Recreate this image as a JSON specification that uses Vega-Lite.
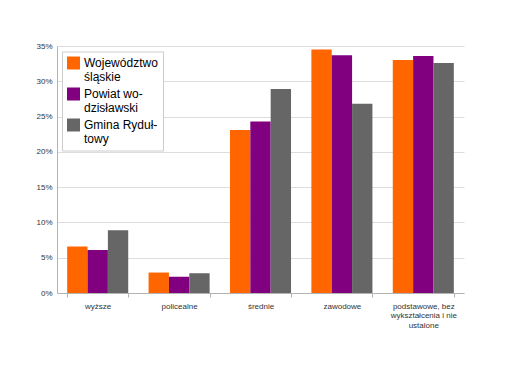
{
  "$schema": "https://vega.github.io/schema/vega-lite/v6.json",
  "width": 407,
  "height": 247,
  "autosize": "none",
  "padding": {"left": 57, "top": 46, "right": 62, "bottom": 79},
  "background": "white",
  "config": {
    "view": {"stroke": null},
    "font": "Liberation Sans"
  },
  "data": {
    "values": [
      {"kat": "wyższe", "jedn": "Województwo śląskie", "v": 6.6},
      {"kat": "wyższe", "jedn": "Powiat wodzisławski", "v": 6.1},
      {"kat": "wyższe", "jedn": "Gmina Rydułtowy", "v": 8.9},
      {"kat": "policealne", "jedn": "Województwo śląskie", "v": 2.9},
      {"kat": "policealne", "jedn": "Powiat wodzisławski", "v": 2.3},
      {"kat": "policealne", "jedn": "Gmina Rydułtowy", "v": 2.8},
      {"kat": "średnie", "jedn": "Województwo śląskie", "v": 23.1},
      {"kat": "średnie", "jedn": "Powiat wodzisławski", "v": 24.3},
      {"kat": "średnie", "jedn": "Gmina Rydułtowy", "v": 28.9},
      {"kat": "zawodowe", "jedn": "Województwo śląskie", "v": 34.5},
      {"kat": "zawodowe", "jedn": "Powiat wodzisławski", "v": 33.7},
      {"kat": "zawodowe", "jedn": "Gmina Rydułtowy", "v": 26.8},
      {"kat": "podstawowe, bez wykształcenia i nie ustalone", "jedn": "Województwo śląskie", "v": 33.0},
      {"kat": "podstawowe, bez wykształcenia i nie ustalone", "jedn": "Powiat wodzisławski", "v": 33.6},
      {"kat": "podstawowe, bez wykształcenia i nie ustalone", "jedn": "Gmina Rydułtowy", "v": 32.6}
    ]
  },
  "mark": {"type": "bar"},
  "encoding": {
    "x": {
      "field": "kat",
      "type": "nominal",
      "sort": ["wyższe", "policealne", "średnie", "zawodowe", "podstawowe, bez wykształcenia i nie ustalone"],
      "scale": {"paddingInner": 0.25, "paddingOuter": 0.125},
      "axis": {
        "title": null,
        "labelAngle": 0,
        "labelFontSize": 8,
        "labelColor": "#333333",
        "labelPadding": 5,
        "labelLimit": 200,
        "labelExpr": "datum.label == 'podstawowe, bez wykształcenia i nie ustalone' ? ['podstawowe, bez', 'wykształcenia i nie', 'ustalone'] : datum.label",
        "labelLineHeight": 9.5,
        "tickBand": "extent",
        "tickColor": "#b3b3b3",
        "tickSize": 4,
        "domainColor": "#b3b3b3",
        "grid": false
      }
    },
    "xOffset": {
      "field": "jedn",
      "type": "nominal",
      "sort": ["Województwo śląskie", "Powiat wodzisławski", "Gmina Rydułtowy"],
      "scale": {"paddingInner": 0, "paddingOuter": 0}
    },
    "y": {
      "field": "v",
      "type": "quantitative",
      "scale": {"domain": [0, 35], "nice": false},
      "axis": {
        "title": null,
        "values": [0, 5, 10, 15, 20, 25, 30, 35],
        "labelExpr": "datum.value + '%'",
        "labelFontSize": 8,
        "labelColor": "#333333",
        "labelPadding": 5,
        "ticks": false,
        "domainColor": "#b3b3b3",
        "gridColor": "#dddddd"
      }
    },
    "color": {
      "field": "jedn",
      "type": "nominal",
      "sort": ["Województwo śląskie", "Powiat wodzisławski", "Gmina Rydułtowy"],
      "scale": {
        "domain": ["Województwo śląskie", "Powiat wodzisławski", "Gmina Rydułtowy"],
        "range": ["#ff6600", "#800080", "#666666"]
      },
      "legend": {
        "title": null,
        "orient": "none",
        "legendX": 5,
        "legendY": 5.5,
        "padding": 5,
        "strokeColor": "#cccccc",
        "fillColor": "white",
        "symbolType": "square",
        "symbolSize": 169,
        "symbolStrokeWidth": 0,
        "symbolOpacity": 1,
        "labelFontSize": 12,
        "labelColor": "#000000",
        "labelLimit": 200,
        "labelLineHeight": 13.5,
        "labelOffset": 4,
        "rowPadding": 4,
        "labelExpr": "datum.label == 'Województwo śląskie' ? ['Województwo', 'śląskie'] : datum.label == 'Powiat wodzisławski' ? ['Powiat wo-', 'dzisławski'] : ['Gmina Ryduł-', 'towy']"
      }
    }
  }
}
